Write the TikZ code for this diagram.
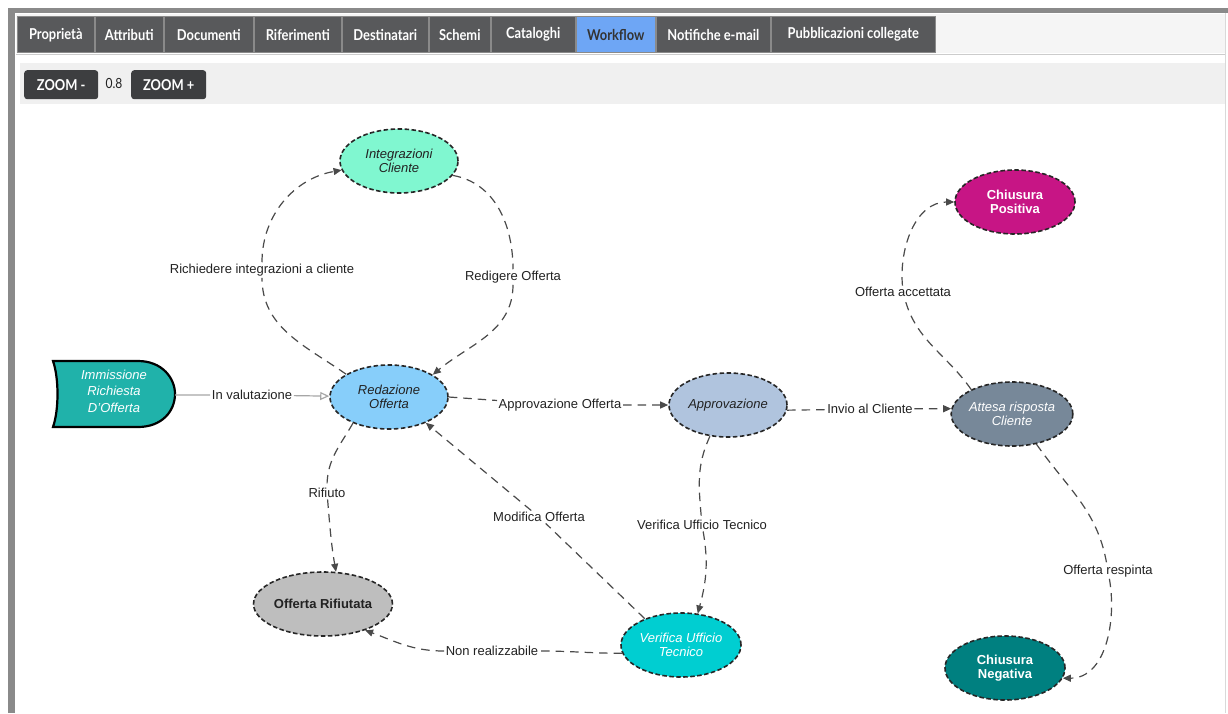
\documentclass[tikz,border=0pt]{standalone}
\usepackage{fontspec}
\setmainfont{Liberation Sans}
\newfontfamily\tabfont[FakeStretch=0.86]{Lato}
\usetikzlibrary{shapes.geometric,arrows.meta}
\definecolor{tabdark}{HTML}{58595B}
\definecolor{tabblue}{HTML}{6EA6F5}
\definecolor{btndark}{HTML}{3D3E40}
\definecolor{framegray}{HTML}{8A8A8A}
\definecolor{edgegray}{HTML}{4A4A4A}
\definecolor{txtdark}{HTML}{222222}
\definecolor{cimmis}{HTML}{20B2AA}
\definecolor{cinteg}{HTML}{80F7D0}
\definecolor{credaz}{HTML}{87CEFA}
\definecolor{capprov}{HTML}{B0C4DE}
\definecolor{cattesa}{HTML}{778899}
\definecolor{cchpos}{HTML}{C71585}
\definecolor{cchneg}{HTML}{008080}
\definecolor{crifiut}{HTML}{BEBEBE}
\definecolor{cverif}{HTML}{00CED1}
\tikzset{
  tab/.style={draw=framegray, line width=0.6pt, fill=tabdark, text=white,
    font=\tabfont\bfseries\fontsize{15}{17}\selectfont, inner sep=0pt, anchor=south west},
  btn/.style={fill=btndark, text=white, rounded corners=3pt,
    font=\tabfont\bfseries\fontsize{15}{17}\selectfont, inner sep=0pt, anchor=north west},
  state/.style={ellipse, draw=black!85, line width=1.6pt, dash pattern=on 4.5pt off 2.5pt,
    minimum width=118pt, minimum height=64pt, inner sep=0pt, align=center,
    font=\fontsize{13}{14.5}\selectfont\itshape, text=txtdark},
  final/.style={state, font=\fontsize{13}{14.5}\selectfont\bfseries, text=white},
  lbl/.style={fill=white, inner sep=1.5pt, text=txtdark, font=\fontsize{13}{15}\selectfont},
  edge/.style={draw=edgegray, line width=1.2pt, dash pattern=on 8.5pt off 6pt,
    -{Triangle[length=8pt,width=7pt]}},
  solidgray/.style={draw=black!35, line width=1.2pt,
    -{Triangle[open,length=9pt,width=8pt]}}
}
\begin{document}
\begin{tikzpicture}[x=1pt,y=-1pt]
\useasboundingbox (0,0) rectangle (1228,713);
\fill[white] (0,0) rectangle (1228,713);

% window frame
\fill[framegray] (8,8) rectangle (1228,13);
\fill[framegray] (8,8) rectangle (15,713);
\draw[black!15, line width=1pt] (1225,13) -- (1225,713);

% tab bar
\fill[black!4] (16,14) rectangle (1224.5,53);
\draw[black!20, line width=0.8pt] (16,54) -- (1224.5,54);
\node[tab, minimum width=77pt, minimum height=36pt] (t1) at (17,53) {Proprietà};
\node[tab, minimum width=68pt, minimum height=36pt] (t2) at (95,53) {Attributi};
\node[tab, minimum width=89pt, minimum height=36pt] (t3) at (164,53) {Documenti};
\node[tab, minimum width=87pt, minimum height=36pt] (t4) at (254,53) {Riferimenti};
\node[tab, minimum width=86pt, minimum height=36pt] (t5) at (342,53) {Destinatari};
\node[tab, minimum width=61pt, minimum height=36pt] (t6) at (429,53) {Schemi};
\node[tab, minimum width=84pt, minimum height=36pt] (t7) at (491,53) {Cataloghi};
\node[tab, fill=tabblue, text=black!80, minimum width=79pt, minimum height=36pt] (t8) at (576,53) {Workflow};
\node[tab, minimum width=114pt, minimum height=36pt] (t9) at (656,53) {Notifiche e-mail};
\node[tab, minimum width=164pt, minimum height=36pt] (t10) at (771,53) {Pubblicazioni collegate};

% zoom toolbar
\fill[black!6] (20,63) rectangle (1224.5,104);
\node[btn, minimum width=74pt, minimum height=29pt] (zminus) at (24,70) {ZOOM -};
\node[text=txtdark, font=\tabfont\fontsize{14}{16}\selectfont] (zval) at (114,83) {0.8};
\node[btn, minimum width=75pt, minimum height=29pt] (zplus) at (131,70) {ZOOM +};

% start state
\filldraw[fill=cimmis, draw=black, line width=2.2pt]
  (53,361) -- (138,361) .. controls (162,361) and (175,378) .. (175,394)
  .. controls (175,411) and (162,427) .. (138,427) -- (53,427)
  .. controls (59,410) and (59,378) .. (53,361) -- cycle;
\node[minimum width=122pt, minimum height=66pt, inner sep=0pt, align=center, text=white,
  font=\fontsize{13}{16.5}\selectfont\itshape] (immis) at (114,391)
  {Immissione\\Richiesta\\D'Offerta};

% states
\node[state, fill=cinteg] (integ) at (399,161) {Integrazioni\\Cliente};
\node[state, fill=credaz] (redaz) at (389,397) {Redazione\\Offerta};
\node[state, fill=capprov] (approv) at (728,405) {Approvazione};
\node[state, fill=cattesa, text=white] (attesa) at (1012,414) {Attesa risposta\\Cliente};
\node[final, fill=cchpos, minimum width=120pt] (chpos) at (1015,202) {Chiusura\\Positiva};
\node[final, fill=cchneg, minimum width=120pt] (chneg) at (1005,668) {Chiusura\\Negativa};
\node[final, fill=crifiut, text=txtdark, minimum width=120pt] (rifiut) at (323,604) {Offerta Rifiutata};
\node[state, fill=cverif, text=white, minimum width=120pt] (verif) at (681,645) {Verifica Ufficio\\Tecnico};

% transition labels
\node[lbl] (l-inval) at (252,395) {In valutazione};
\node[lbl] (l-rich) at (262,270) {Richiedere integrazioni a cliente};
\node[lbl] (l-red) at (513,277) {Redigere Offerta};
\node[lbl] (l-appoff) at (560,405) {Approvazione Offerta};
\node[lbl] (l-invio) at (870,409) {Invio al Cliente};
\node[lbl] (l-acc) at (903,292) {Offerta accettata};
\node[lbl] (l-resp) at (1108,571) {Offerta respinta};
\node[lbl] (l-ver) at (702,525) {Verifica Ufficio Tecnico};
\node[lbl] (l-mod) at (539,517) {Modifica Offerta};
\node[lbl] (l-nonr) at (492,651) {Non realizzabile};
\node[lbl] (l-rif) at (327,493) {Rifiuto};

% transitions
\draw[solidgray] (immis.east |- l-inval.west) -- (l-inval) -- (redaz);
\draw[edge] (redaz.152) to[out=145,in=-90] (l-rich) to[out=90,in=190] (integ.189);
\draw[edge] (integ.-15) to[out=-10,in=90] (l-red) to[out=-90,in=40] (redaz.27);
\draw[edge] (redaz.east) -- (l-appoff) -- (approv.west);
\draw[edge] (approv.-5) -- (l-invio) -- (attesa.175);
\draw[edge] (attesa.149) to[out=125,in=-75] (l-acc) to[out=95,in=180] (chpos.west);
\draw[edge] (attesa.-51) to[out=-55,in=100] (l-resp) to[out=-80,in=0] (chneg.-10);
\draw[edge] (approv.-120) to[out=-115,in=95] (l-ver) to[out=-80,in=75] (verif.62);
\draw[edge] (verif.144) -- (l-mod) -- (redaz.-35);
\draw[edge] (verif.188) to[out=180,in=0] (l-nonr) to[out=180,in=-20] (rifiut.-32);
\draw[edge] (redaz.216) to[out=-120,in=90] (l-rif) to[out=-85,in=100] (rifiut.68);
\end{tikzpicture}
\end{document}
